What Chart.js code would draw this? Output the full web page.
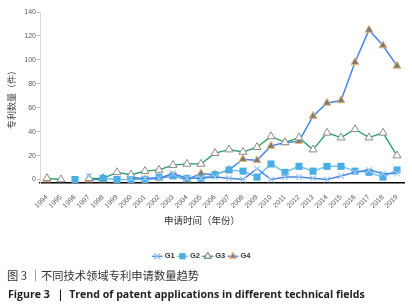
<!DOCTYPE html>
<html>
<head>
<meta charset="utf-8">
<script src="https://cdn.jsdelivr.net/npm/chart.js@4.4.1/dist/chart.umd.min.js"></script>
<style>
  html, body { margin: 0; padding: 0; background: #fff; }
  #wrap { position: relative; width: 412px; height: 306px; overflow: hidden; }
  #box { position: absolute; left: 0; top: 0; width: 412px; height: 270px; }
  .cap1 { position: absolute; left: 7px; top: 267px; font: 11.3px "Noto Sans CJK SC", sans-serif; color: #333; white-space: nowrap; }
  .cap2 { position: absolute; left: 8px; top: 287px; font: bold 10.6px "Open Sans", "Noto Sans", sans-serif; color: #222; white-space: nowrap; }
</style>
</head>
<body>
<div id="wrap">
  <div id="box"><canvas id="c"></canvas></div>
  <div class="cap1">图 3 ｜不同技术领域专利申请数量趋势</div>
  <div class="cap2">Figure 3 &nbsp;｜ Trend of patent applications in different technical fields</div>
</div>
<script>
const years = ['1994','1995','1996','1997','1998','1999','2000','2001','2002','2003','2004','2005','2006','2007','2008','2009','2010','2011','2012','2013','2014','2015','2016','2017','2018','2019'];
const g1 = [null, null, null, 3, null, null, 1, 1, 1, 5, 1, 1, 2, 1, 0, 9, 0, 2, 2, 1, 0, 3, 6, 8, 5, 5];
const g2 = [null, null, 0, null, 1, 0, 0, 0, 2, 3, 1, 1, 4, 8, 7, 2, 13, 6, 11, 7, 11, 11, 7, 6, 2, 8];
const g3 = [1, 0, null, 1, 1, 6, 4, 7, 8, 12, 13, 13, 22, 25, 23, 27, 36, 31, 35, 25, 39, 35, 42, 35, 39, 20];
const g4 = [0, null, null, 0, 0, null, 2, 0, 1, 3, 0, 5, 4, 8, 17, 16, 28, 31, 32, 53, 64, 66, 98, 125, 112, 95];
const yTicks = [0, 20, 40, 60, 80, 100, 120, 140];

const tickFont = { family: 'Liberation Sans, Arial, sans-serif', size: 7 };
const LEG_FONT = 7.5;

// draws a short line segment through each legend marker (Excel style)
const legendLines = {
  id: 'legendLines',
  afterDraw(chart) {
    const lg = chart.legend;
    if (!lg || !lg.legendHitBoxes) return;
    const ctx = chart.ctx;
    const bw = Math.min(lg.options.labels.boxWidth, LEG_FONT);
    lg.legendHitBoxes.forEach((hb, i) => {
      const ds = chart.data.datasets[i];
      const cx = hb.left + bw / 2;
      const cy = hb.top + hb.height / 2;
      ctx.save();
      ctx.strokeStyle = ds.borderColor;
      ctx.lineWidth = 1.3;
      ctx.beginPath();
      ctx.moveTo(cx - 5.5, cy);
      ctx.lineTo(cx + 5.5, cy);
      ctx.stroke();
      ctx.fillStyle = ds.pointBackgroundColor || ds.backgroundColor;
      ctx.strokeStyle = ds.pointBorderColor;
      ctx.lineWidth = ds.pointBorderWidth;
      Chart.helpers.drawPoint(ctx, { pointStyle: ds.pointStyle, radius: ds.pointStyle === 'rect' ? 4 : 3.6, borderWidth: ds.pointBorderWidth, rotation: 0 }, cx, cy);
      ctx.restore();
    });
  }
};

new Chart(document.getElementById('c'), {
  type: 'line',
  data: {
    labels: years,
    datasets: [
      { label: 'G1', data: g1, borderColor: '#4e86e4', backgroundColor: '#9cc8ee', borderWidth: 1.5,
        pointStyle: 'crossRot', pointRadius: 4, pointBackgroundColor: '#9cc8ee', pointBorderColor: '#9cc8ee', pointBorderWidth: 1.2, tension: 0 },
      { label: 'G2', data: g2, borderColor: '#72c2ea', backgroundColor: '#4aaee2', borderWidth: 1.5,
        pointStyle: 'rect', pointRadius: 5, pointBackgroundColor: '#4aaee2', pointBorderColor: '#4aaee2', pointBorderWidth: 0, tension: 0 },
      { label: 'G3', data: g3, borderColor: '#23a060', backgroundColor: '#ffffff', borderWidth: 1.3,
        pointStyle: 'triangle', pointRadius: 4.6, pointBackgroundColor: '#ffffff', pointBorderColor: '#8a8a8a', pointBorderWidth: 1, tension: 0 },
      { label: 'G4', data: g4, borderColor: '#4a86e8', backgroundColor: '#7a7a7a', borderWidth: 1.5,
        pointStyle: 'triangle', pointRadius: 4.6, pointBackgroundColor: '#7a7a7a', pointBorderColor: '#e8b77a', pointBorderWidth: 1, tension: 0 }
    ]
  },
  options: {
    responsive: true,
    maintainAspectRatio: false,
    animation: false,
    layout: { padding: { top: 12, right: 8, left: 0, bottom: 0 } },
    plugins: {
      legend: {
        position: 'bottom',
        weight: 3000,
        labels: { usePointStyle: true, boxWidth: 7.5, boxHeight: 6, padding: 4,
          font: { family: 'Liberation Sans, Arial, sans-serif', size: LEG_FONT, weight: 'bold' }, color: '#333' }
      },
      title: {
        display: true,
        position: 'bottom',
        text: '申请时间（年份）',
        color: '#333',
        font: { family: 'Noto Sans CJK SC, sans-serif', size: 9.5, weight: 'normal' },
        padding: { top: 0, bottom: 22 }
      },
      tooltip: { enabled: false }
    },
    scales: {
      x: {
        offset: true,
        grid: { display: false },
        border: { color: '#000', width: 1.5 },
        ticks: { font: tickFont, color: '#595959', minRotation: 45, maxRotation: 45, autoSkip: false, padding: 2 },
        afterFit: s => { s.height = 32; }
      },
      y: {
        min: -3, max: 140,
        afterBuildTicks: s => { s.ticks = yTicks.map(v => ({ value: v })); },
        grid: { display: true, drawOnChartArea: false, tickLength: 3, color: '#bfbfbf' },
        border: { color: '#d9d9d9', width: 1 },
        ticks: { font: tickFont, color: '#595959', padding: 1 },
        title: { display: true, text: '专利数量（件）', color: '#444',
          font: { family: 'Noto Sans CJK SC, sans-serif', size: 9 }, padding: { top: 6, bottom: 1 } },
        afterFit: s => { s.width = 40; }
      }
    }
  },
  plugins: [legendLines]
});
</script>
</body>
</html>
